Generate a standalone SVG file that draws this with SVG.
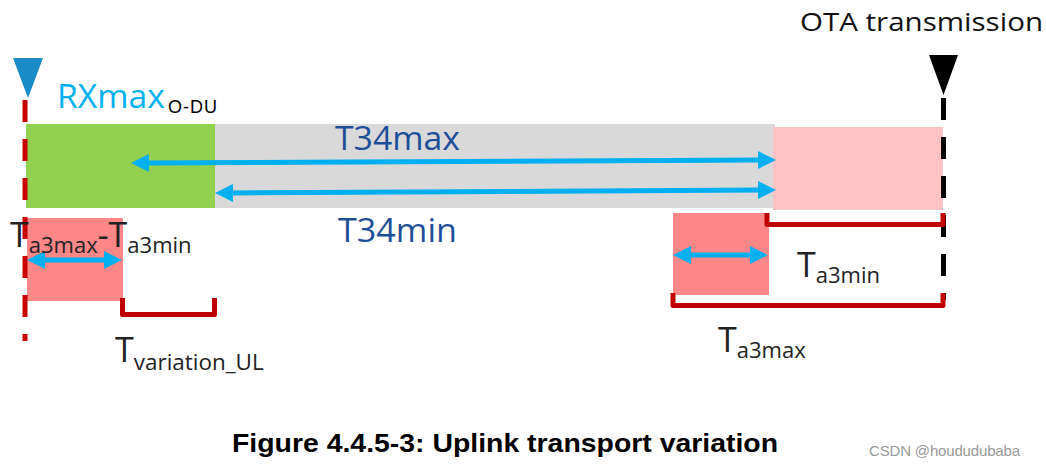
<svg xmlns="http://www.w3.org/2000/svg" width="1046" height="467" viewBox="0 0 1046 467">
  <style>
    .lbl { font-family: "Open Sans", "Liberation Sans", sans-serif; fill: #222222; }
    .big { font-size: 34px; }
    .sub { font-size: 22px; }
    .blue { font-family: "Open Sans", "Liberation Sans", sans-serif; font-size: 32px; fill: #1F4E99; }
    .arrow { stroke: #00B0F0; stroke-width: 5; fill: none; marker-start: url(#ah); marker-end: url(#ah); }
    .bracket { stroke: #C00000; stroke-width: 5; fill: none; stroke-linejoin: round; }
    .dash { stroke-width: 5; fill: none; stroke-dasharray: 22 17; }
  </style>
  <defs>
    <marker id="ah" viewBox="0 0 18 18" refX="3" refY="9" markerWidth="18" markerHeight="18" markerUnits="userSpaceOnUse" orient="auto-start-reverse">
      <path d="M0,0 L18,9 L0,18 z" fill="#00B0F0"/>
    </marker>
  </defs>
  <rect width="1046" height="467" fill="#FFFFFF"/>

  <g id="t34-block">
    <rect x="215" y="124" width="560" height="84" fill="#D9D9D9"/>
  </g>
  <g id="rxmax-block">
    <rect x="26" y="124" width="189" height="84" fill="#92D050"/>
  </g>
  <g id="ta3min-block">
    <rect x="773" y="127" width="170" height="83" fill="#FFC2C2"/>
  </g>
  <g id="variation-left">
    <rect x="27" y="218" width="96" height="83" fill="#FF8787"/>
  </g>
  <g id="variation-right">
    <rect x="673" y="213" width="96" height="82" fill="#FF8787"/>
  </g>

  <g id="rx-marker">
    <line class="dash" x1="25" y1="100" x2="25" y2="341" stroke="#C80000"/>
    <polygon points="13,58 43,58 28,98" fill="#1A8BC6"/>
  </g>
  <g id="ota-marker">
    <line class="dash" x1="943.5" y1="98" x2="943.5" y2="300" stroke="#000000"/>
    <polygon points="929,55 958,55 943.5,95" fill="#000000"/>
  </g>

  <g id="connectors">
    <line class="arrow" x1="146" y1="163" x2="761" y2="160"/>
    <line class="arrow" x1="230" y1="193" x2="761" y2="190"/>
    <line class="arrow" x1="42" y1="260" x2="107" y2="260"/>
    <line class="arrow" x1="688" y1="255" x2="753" y2="255"/>
    <path class="bracket" d="M122.5,298 V314.5 H214.5 V298"/>
    <path class="bracket" d="M767,213 V224.5 H943 V213"/>
    <path class="bracket" d="M673,293 V305.5 H943 V293"/>
  </g>

  <g id="labels">
    <text x="800" y="31" font-family="Open Sans, Liberation Sans, sans-serif" font-size="26" fill="#111111" textLength="243" lengthAdjust="spacingAndGlyphs">OTA transmission</text>
    <text x="57" y="108" font-family="Open Sans, Liberation Sans, sans-serif" font-size="32" fill="#00B0F0" textLength="108" lengthAdjust="spacingAndGlyphs">RXmax</text>
    <text x="168" y="113" font-family="Liberation Sans, Arial, sans-serif" font-size="18" fill="#000000" textLength="49">O-DU</text>
    <text class="blue" x="335" y="150" textLength="125" lengthAdjust="spacingAndGlyphs">T34max</text>
    <text class="blue" x="338" y="242" textLength="119" lengthAdjust="spacingAndGlyphs">T34min</text>
    <text class="lbl big" x="10" y="247">T<tspan class="sub" dy="6">a3max</tspan><tspan dy="-6">-T</tspan><tspan class="sub" dy="6">a3min</tspan></text>
    <text class="lbl big" x="797" y="277">T<tspan class="sub" dy="6">a3min</tspan></text>
    <text class="lbl big" x="718" y="352">T<tspan class="sub" dy="6">a3max</tspan></text>
    <text class="lbl big" x="115" y="362">T<tspan class="sub" dy="8" textLength="130" lengthAdjust="spacingAndGlyphs">variation_UL</tspan></text>
  </g>

  <g id="caption">
    <text x="232" y="452" font-family="Liberation Sans, Arial, sans-serif" font-size="26.5" font-weight="bold" fill="#000000" textLength="546" lengthAdjust="spacingAndGlyphs">Figure 4.4.5-3: Uplink transport variation</text>
    <text x="869" y="456" font-family="Liberation Sans, Arial, sans-serif" font-size="15" fill="#999999" textLength="151">CSDN @hoududubaba</text>
  </g>
</svg>
